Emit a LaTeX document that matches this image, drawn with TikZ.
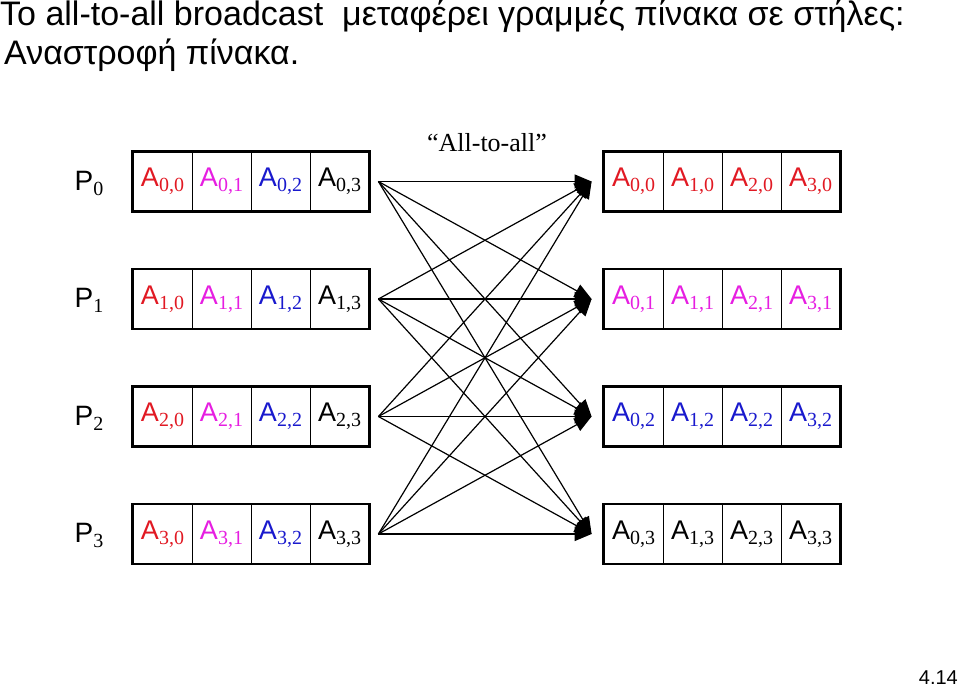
\documentclass[tikz,border=0pt]{standalone}
\usepackage{fontspec}
\setmainfont{Liberation Sans}
\newfontfamily\timesfont{Liberation Serif}
\usetikzlibrary{arrows.meta}
\newcommand{\cellw}{59}
\newcommand{\rowgap}{117.5}
\newcommand{\lowsub}[1]{\raisebox{-5pt}{\timesfont\fontsize{20}{22}\selectfont #1}}
\newcommand{\Aij}[2]{A\lowsub{#1,#2}}
\definecolor{colzero}{RGB}{225,25,35}
\definecolor{colone}{RGB}{230,30,225}
\definecolor{coltwo}{RGB}{25,25,205}
\definecolor{colthree}{RGB}{0,0,0}

\begin{document}
\begin{tikzpicture}[x=1pt,y=-1pt]
    \tikzset{cell/.style = {draw, line width=0.8pt, minimum width=\cellw pt, minimum height=59pt,
                            inner sep=0pt, font=\fontsize{27}{30}\selectfont},
             frame/.style = {draw, line width=2.6pt},
             xfer/.style = {-{Triangle[length=17pt,width=14pt]}, line width=1.2pt}}
    \useasboundingbox (0,0) rectangle (960,688);
    % title
    \node[anchor=base west, inner sep=0pt, font=\fontsize{34}{36}\selectfont] (title1) at (0,25)
        {To all-to-all broadcast\ \ μεταφέρει γραμμές πίνακα σε στήλες:};
    \node[anchor=base west, inner sep=0pt, font=\fontsize{34}{36}\selectfont] (title2) at (4,64)
        {Αναστροφή πίνακα.};
    % the two sets of arrays
    \foreach \i/\ci in {0/colzero,1/colone,2/coltwo,3/colthree} {
        \foreach \j/\cj in {0/colzero,1/colone,2/coltwo,3/colthree} {
            \node[cell, text=\cj] (L\i\j) at ({162.5+\cellw*\j},{181.5+\rowgap*\i}) {\Aij{\i}{\j}};
            \node[cell, text=\ci] (R\i\j) at ({633.5+\cellw*\j},{181.5+\rowgap*\i}) {\Aij{\j}{\i}};
        }
        \draw[frame] (L\i0.north west) rectangle (L\i3.south east);
        \draw[frame] (R\i0.north west) rectangle (R\i3.south east);
        \node[font=\fontsize{28}{30}\selectfont] (P\i) at (89,{183+\rowgap*\i}) {P\lowsub{\i}};
        \coordinate (s\i) at ([xshift=9pt]L\i3.east);
        \coordinate (t\i) at ([xshift=-12pt]R\i0.west);
    }
    \node[font=\timesfont\fontsize{26}{28}\selectfont] (label) at (487,143) {“All-to-all”};
    % every process sends to every process
    \foreach \i in {0,...,3}
        \foreach \j in {0,...,3}
            \draw[xfer] (s\i) -- (t\j);
    \node[anchor=base east, inner sep=0pt, font=\fontsize{20}{22}\selectfont] (page) at (958,684) {4.14};
\end{tikzpicture}
\end{document}
